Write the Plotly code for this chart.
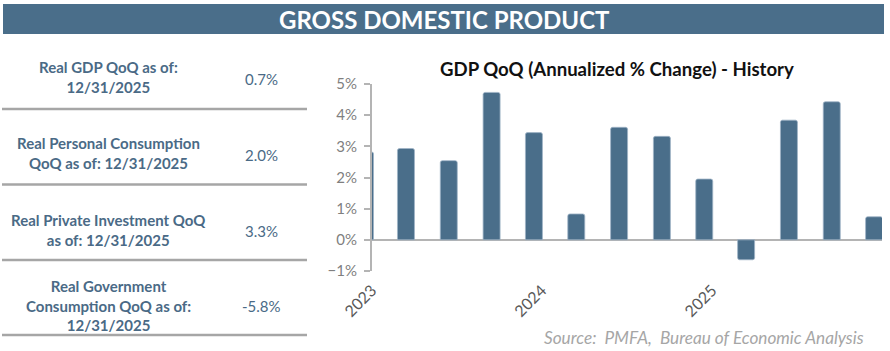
import plotly.graph_objects as go

# ---------------- data ----------------
quarter_dates = ["2022-12-17", "2023-03-15", "2023-06-15", "2023-09-15", "2023-12-15",
                 "2024-03-15", "2024-06-15", "2024-09-15", "2024-12-15",
                 "2025-03-15", "2025-06-15", "2025-09-15", "2025-12-15"]
gdp_qoq = [2.82, 2.93, 2.54, 4.73, 3.44, 0.83, 3.61, 3.32, 1.95, -0.64, 3.84, 4.43, 0.74]

table_labels = ["Real GDP QoQ as of:<br>12/31/2025",
                "Real Personal Consumption<br>QoQ as of: 12/31/2025",
                "Real Private Investment QoQ<br>as of: 12/31/2025",
                "Real Government<br>Consumption QoQ as of:<br>12/31/2025"]
table_values = ["0.7%", "2.0%", "3.3%", "-5.8%"]

year_ticks = ["2023-01-01", "2024-01-01", "2025-01-01"]
year_labels = ["2023", "2024", "2025"]

banner_title = "GROSS DOMESTIC PRODUCT"
chart_title = "GDP QoQ (Annualized % Change) - History"
source_text = "Source:&nbsp; PMFA,&nbsp; Bureau of Economic Analysis"

# ---------------- styling ----------------
W, H = 890, 351
BLUE = "#4a6e8a"
TEXT_BLUE = "#4a6a86"
AXIS_GRAY = "#b4b4b4"
FONT = "Lato"

def px(x):
    return x / W

def py(y):
    return 1 - y / H

x_dom = [px(372), px(882)]
y_dom = [py(271), py(84)]
x_range = ["2023-01-01", "2026-01-01"]
y_range = [-1, 5]
zero_pos = py(240)

fig = go.Figure()
fig.add_trace(go.Bar(
    x=quarter_dates, y=gdp_qoq,
    width=36.5 * 86400000,
    marker=dict(color=BLUE, line=dict(color="#9fb4c6", width=0.8), cornerradius=2),
    hoverinfo="skip",
))

tick_common = dict(type="date", range=x_range, domain=x_dom, showgrid=False,
                   zeroline=False, showticklabels=False, fixedrange=True,
                   automargin=False)

fig.update_layout(
    width=W, height=H,
    margin=dict(l=0, r=0, t=0, b=0, pad=0, autoexpand=False),
    paper_bgcolor="white", plot_bgcolor="rgba(0,0,0,0)",
    showlegend=False,
    font=dict(family=FONT),
    xaxis=dict(type="date", range=x_range, domain=x_dom, anchor="y",
               showgrid=False, zeroline=False, showline=False, ticks="",
               tickvals=year_ticks, ticktext=year_labels, tickangle=-45,
               ticklabelstandoff=6,
               tickfont=dict(family=FONT, size=16, color="#595959"),
               fixedrange=True, automargin=False),
    xaxis2=dict(tick_common, overlaying="x", anchor="free", position=zero_pos,
                showline=False, ticks="outside", ticklen=5, tickwidth=2,
                tickcolor=AXIS_GRAY, dtick="M12", tick0="2023-01-01"),
    xaxis3=dict(tick_common, overlaying="x", anchor="free", position=zero_pos,
                showline=False, ticks="inside", ticklen=5, tickwidth=2,
                tickcolor=AXIS_GRAY, dtick="M12", tick0="2023-01-01"),
    yaxis=dict(range=y_range, domain=y_dom, anchor="x", dtick=1,
               ticksuffix="%", showgrid=False,
               zeroline=True, zerolinecolor=AXIS_GRAY, zerolinewidth=2,
               showline=True, linecolor=AXIS_GRAY, linewidth=2,
               ticks="outside", ticklen=6, tickwidth=2, tickcolor=AXIS_GRAY,
               ticklabelstandoff=4,
               tickfont=dict(family=FONT, size=15, color="#7f7f7f"),
               fixedrange=True, automargin=False),
    yaxis2=dict(range=y_range, domain=y_dom, anchor="x", overlaying="y",
                dtick=1, showgrid=False, zeroline=False, showline=False,
                ticks="inside", ticklen=4, tickwidth=2, tickcolor=AXIS_GRAY,
                showticklabels=False, fixedrange=True, automargin=False),
)

shapes = []
annotations = []

# banner
shapes.append(dict(type="rect", xref="paper", yref="paper",
                   x0=px(3), x1=px(884), y0=py(34), y1=py(4),
                   fillcolor=BLUE, line=dict(width=0), layer="below"))
annotations.append(dict(text=banner_title, xref="paper", yref="paper",
                        x=px(444), y=py(19.5), xanchor="center", yanchor="middle",
                        showarrow=False,
                        font=dict(family=FONT, size=24, color="white", weight=700)))

# table
row_centers = [77.5, 153.5, 229.5, 305]
sep_lines = [109, 184.5, 260, 335]
for lab, val, yc in zip(table_labels, table_values, row_centers):
    annotations.append(dict(text=lab, xref="paper", yref="paper",
                            x=px(108.5), y=py(yc), xanchor="center", yanchor="middle",
                            showarrow=False, align="center",
                            font=dict(family=FONT, size=15, color=TEXT_BLUE, weight=700)))
    annotations.append(dict(text=val, xref="paper", yref="paper",
                            x=px(261), y=py(yc + 1), xanchor="center", yanchor="middle",
                            showarrow=False,
                            font=dict(family=FONT, size=15, color=TEXT_BLUE)))
for yl in sep_lines:
    shapes.append(dict(type="line", xref="paper", yref="paper",
                       x0=px(2), x1=px(307), y0=py(yl), y1=py(yl),
                       line=dict(color="#a6a6a6", width=2.5)))

# chart title
annotations.append(dict(text=chart_title, xref="paper", yref="paper",
                        x=px(617), y=py(69), xanchor="center", yanchor="middle",
                        showarrow=False,
                        font=dict(family=FONT, size=18.6, color="#111111", weight=700)))

# source
annotations.append(dict(text="<i>" + source_text + "</i>", xref="paper", yref="paper",
                        x=px(866), y=py(337), xanchor="right", yanchor="middle",
                        showarrow=False,
                        font=dict(family=FONT, size=17.2, color="#a6a6a6")))

fig.update_layout(shapes=shapes, annotations=annotations)
fig.write_html("out.html")
